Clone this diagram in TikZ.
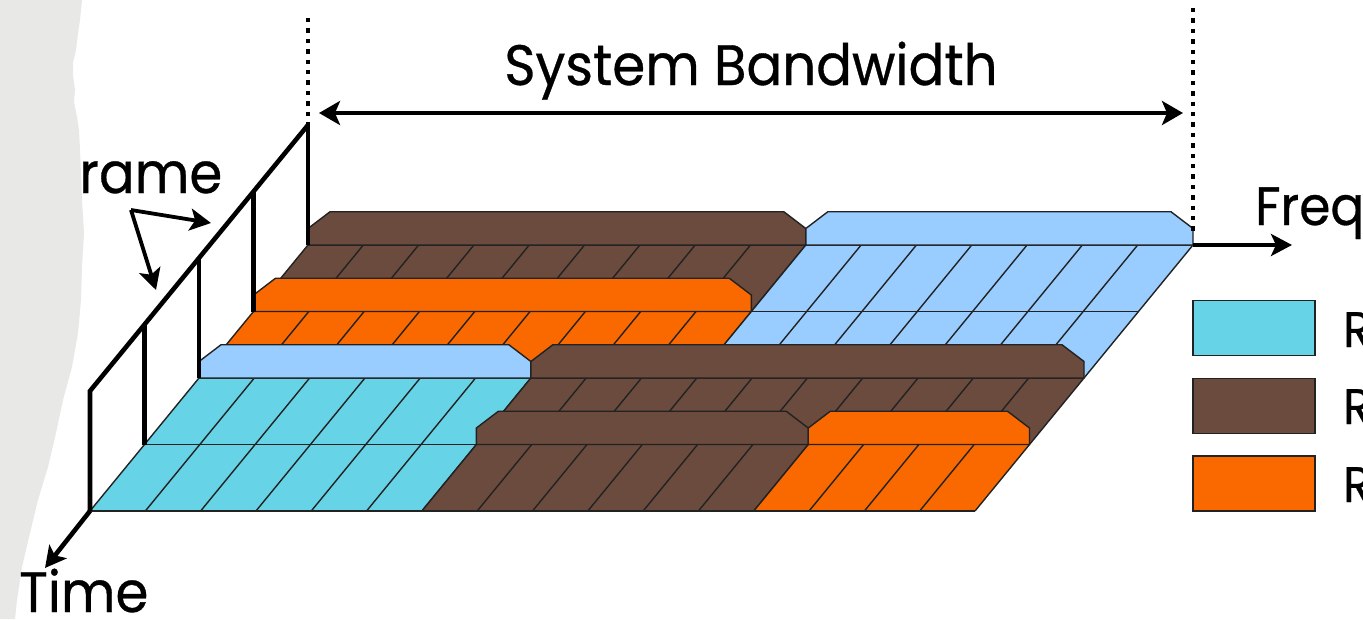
\documentclass[tikz,border=0pt]{standalone}
\usepackage{fontspec}
\setmainfont{Poppins}[FakeBold=0.6]
\usetikzlibrary{arrows.meta}

\definecolor{ueA}{HTML}{66D3E6}
\definecolor{ueB}{HTML}{6A4B3E}
\definecolor{ueC}{HTML}{F96900}
\definecolor{ueD}{HTML}{99CCFF}
\definecolor{paper}{HTML}{E8E8E6}
\definecolor{edge}{HTML}{222222}

% grid geometry: column c on line k (k = 0 front ... 4 back)
\newcommand{\gx}[2]{90+54.5*(#2)+55.3125*(#1)}
\newcommand{\gy}[1]{511-66.5*(#1)}
% slightly condensed label text
\newcommand{\lbl}[1]{\scalebox{0.93}[1]{#1}}

\tikzset{
  cellline/.style={draw=edge, line width=1.4pt},
  wallface/.style={draw=edge, line width=1.4pt, line join=miter},
  axisline/.style={line width=4.6pt, line join=miter},
  guide/.style={line width=4.4pt, dash pattern=on 4.4pt off 6pt},
  headtip/.style={-{Stealth[length=21pt,width=22pt,inset=5pt]}},
  bothtips/.style={{Stealth[length=21pt,width=24pt,inset=5pt]}-{Stealth[length=21pt,width=24pt,inset=5pt]}},
  bigtext/.style={font=\fontsize{57}{60}\selectfont, inner sep=0pt},
  midtext/.style={font=\fontsize{54}{57}\selectfont, inner sep=0pt},
  keytext/.style={font=\fontsize{50}{54}\selectfont, inner sep=0pt},
  keybox/.style={draw=edge, line width=1.4pt, minimum width=122pt, minimum height=55pt, inner sep=0pt},
}

% one row of cells: row r, columns c1..c2, colour
\newcommand{\floorrow}[4]{%
  \fill[#4] ({\gx{#2}{#1}},{\gy{#1}}) -- ({\gx{#3}{#1}},{\gy{#1}})
     -- ({\gx{#3}{#1+1}},{\gy{#1+1}}) -- ({\gx{#2}{#1+1}},{\gy{#1+1}}) -- cycle;
  \foreach \cc in {#2,...,#3}{%
    \draw[cellline] ({\gx{\cc}{#1}},{\gy{#1}}) -- ({\gx{\cc}{#1+1}},{\gy{#1+1}});}
  \draw[cellline] ({\gx{#2}{#1}},{\gy{#1}}) -- ({\gx{#3}{#1}},{\gy{#1}});
  \draw[cellline] ({\gx{#2}{#1+1}},{\gy{#1+1}}) -- ({\gx{#3}{#1+1}},{\gy{#1+1}});
}

% raised block standing on line k, columns c1..c2, colour
\newcommand{\wallblk}[4]{%
  \pgfmathsetmacro{\wxl}{\gx{#2}{#1}}
  \pgfmathsetmacro{\wxr}{\gx{#3}{#1}}
  \pgfmathsetmacro{\wyb}{\gy{#1}}
  \filldraw[wallface, fill=#4] (\wxl,\wyb) -- (\wxl,\wyb-16.5) -- (\wxl+22,\wyb-33.25)
     -- (\wxr-22,\wyb-33.25) -- (\wxr,\wyb-16.5) -- (\wxr,\wyb) -- cycle;
}

\begin{document}
\begin{tikzpicture}[x=1pt,y=-1pt]
\useasboundingbox (0,0) rectangle (1363,619);
\fill[white] (0,0) rectangle (1363,619);

% floor of resource cells
\floorrow{3}{0}{9}{ueB}
\floorrow{3}{9}{16}{ueD}
\floorrow{2}{0}{9}{ueC}
\floorrow{2}{9}{16}{ueD}
\floorrow{1}{0}{6}{ueA}
\floorrow{1}{6}{16}{ueB}
\floorrow{0}{0}{6}{ueA}
\floorrow{0}{6}{12}{ueB}
\floorrow{0}{12}{16}{ueC}

% raised blocks, back to front
\wallblk{4}{0}{9}{ueB}
\wallblk{4}{9}{16}{ueD}
\wallblk{3}{0}{9}{ueC}
\wallblk{2}{0}{6}{ueD}
\wallblk{2}{6}{16}{ueB}
\wallblk{1}{6}{12}{ueB}
\wallblk{1}{12}{16}{ueC}

% time axis with frame posts
\coordinate (tTop) at (308,125);
\coordinate (tBend) at (90,391);
\coordinate (tBase) at (90,511);
\coordinate (tTip) at (45,568);
\draw[axisline] (tTop) -- (tBend) -- (tBase);
\draw[axisline, headtip] (tBase) -- (tTip);
\foreach \k in {1,...,4}{%
  \draw[axisline] ({90+54.5*\k},{391-66.5*\k}) -- ({90+54.5*\k},{511-66.5*\k});}

% bandwidth limits
\coordinate (bwL) at (308,18);
\coordinate (bwR) at (1193,8);
\coordinate (bwRb) at (1193,233);
\draw[guide] (bwL) -- (tTop);
\draw[guide] (bwR) -- (bwRb);
\coordinate (sbL) at (319,113);
\coordinate (sbR) at (1183,113);
\draw[line width=4.6pt, bothtips] (sbL) -- (sbR);
\node[bigtext, anchor=base] (sbText) at (751,85) {\lbl{System Bandwidth}};

% frequency axis
\coordinate (fBase) at (1193,245);
\coordinate (fTip) at (1292,245);
\draw[axisline, headtip] (fBase) -- (fTip);
\node[midtext, anchor=base west] (fText) at (1255,225) {\lbl{Freq}};

% frame label with pointers
\node[bigtext, anchor=base west] (frText) at (79,193) {\lbl{rame}};
\coordinate (frV) at (131,210);
\coordinate (frP1) at (211,223);
\coordinate (frP2) at (156,290);
\draw[line width=3.8pt, headtip, line join=miter] (frV) -- (frP1);
\draw[line width=3.8pt, headtip] (frV) -- (frP2);

% torn paper strip along the left
\fill[paper] (0,0) -- (82,0) -- (80,20) -- (78,33) -- (76,50) -- (73,63) -- (73,75)
  -- (75,90) -- (74,102) -- (77,117) -- (79,130) -- (80,150) -- (81,175) -- (82,200)
  -- (84,233) -- (82,267) -- (81,300) -- (78,333) -- (72,367) -- (63,400) -- (56,433)
  -- (48,467) -- (38,500) -- (30,533) -- (22,567) -- (17,600) -- (15,619) -- (0,619) -- cycle;

\node[bigtext, anchor=base west] (timeText) at (19,612) {\lbl{Time}};

% legend
\node[keybox, fill=ueA] (keyA) at (1254,328) {};
\node[keybox, fill=ueB] (keyB) at (1254,406) {};
\node[keybox, fill=ueC] (keyC) at (1254,483.5) {};
\node[keytext, anchor=base west] (labA) at (1343,347) {\lbl{R}};
\node[keytext, anchor=base west] (labB) at (1343,424) {\lbl{R}};
\node[keytext, anchor=base west] (labC) at (1343,502) {\lbl{R}};
\end{tikzpicture}
\end{document}
